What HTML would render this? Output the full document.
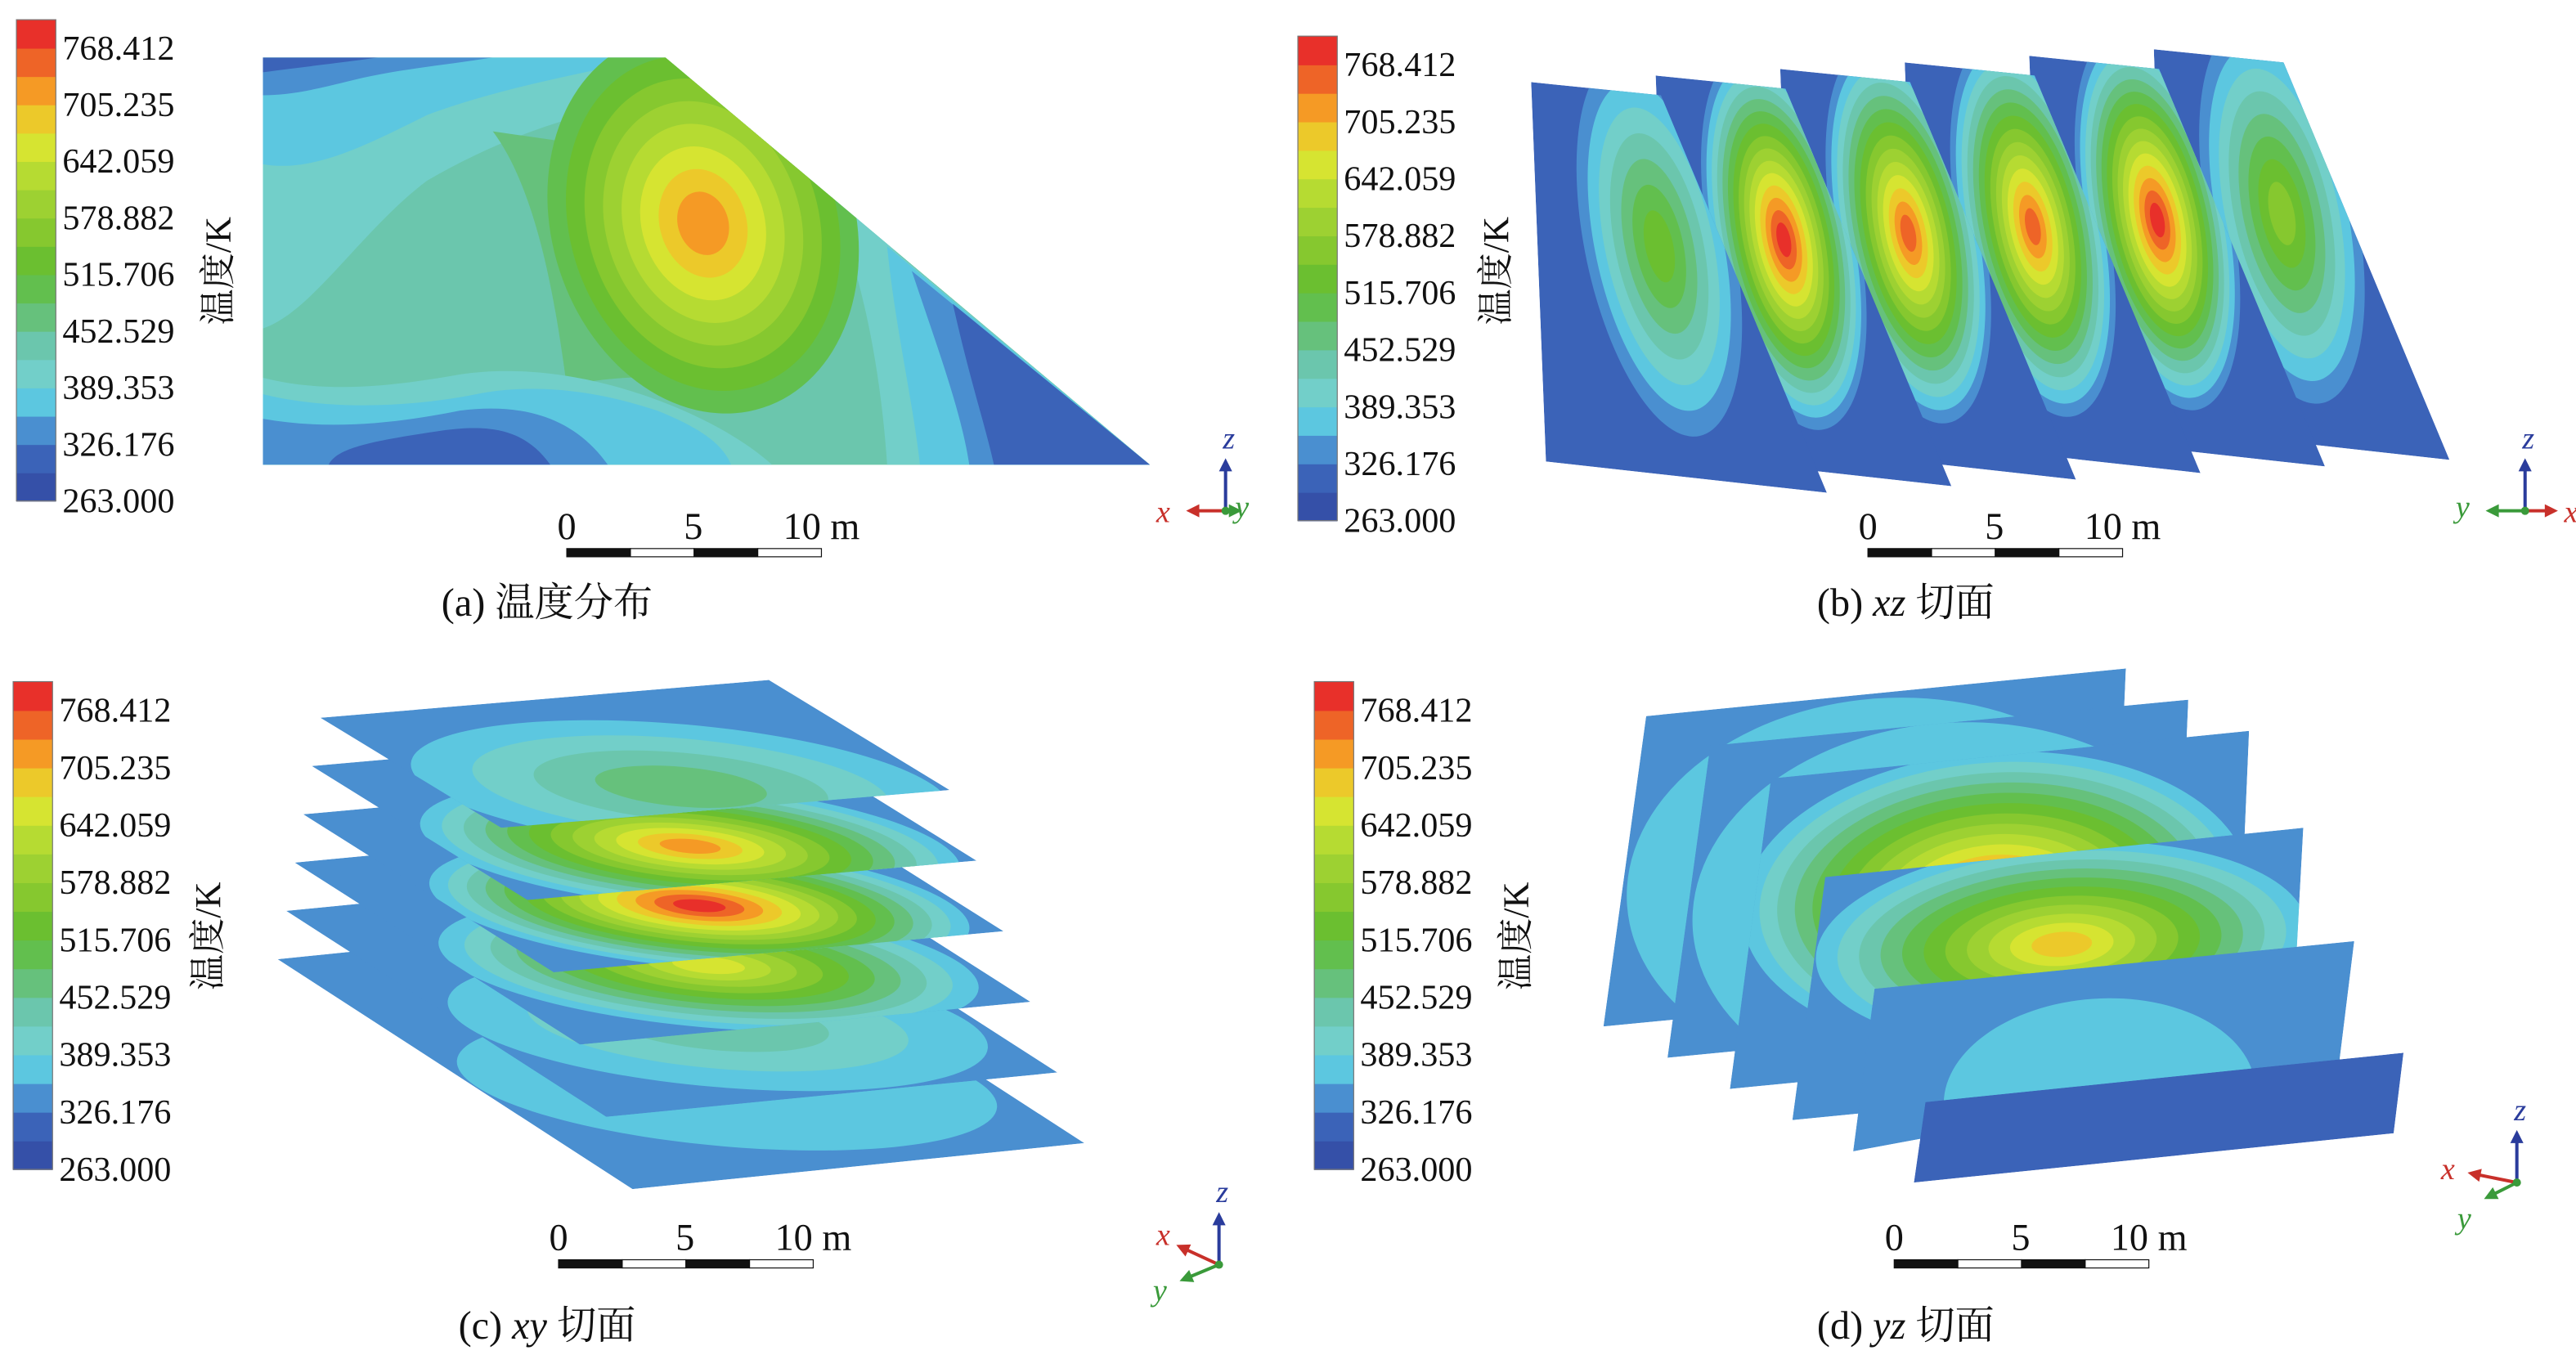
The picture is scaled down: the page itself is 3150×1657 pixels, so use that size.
<!DOCTYPE html>
<html><head><meta charset="utf-8"><style>
html,body{margin:0;padding:0;background:#fff;}
svg{display:block;}
text{font-family:"Liberation Serif","Noto Serif CJK SC","Noto Sans CJK SC",serif;fill:#111;}
</style></head><body>
<svg id="fig" xmlns="http://www.w3.org/2000/svg" width="3150" height="1657" viewBox="0 0 1568 825" preserveAspectRatio="none">
<defs></defs>
</svg>
<script>
// colorbar data
const tickLabels = ["768.412","705.235","642.059","578.882","515.706","452.529","389.353","326.176","263.000"];
const bandColors = ["#3550a8","#3b63b8","#4a8fd0","#5cc7e0","#72cfc9","#6bc6ad","#66c17c","#62bf4e","#6bbf30","#86c82f","#9dd132","#b6db32","#d6e431","#ecc92a","#f59a25","#ee6427","#e8302a"];
// peak band index per slice
const xzPeaks = [8,16,15,15,16,9];
const xyPeaks = [6,14,16,12,5,3];
const yzPeaks = [4,5,16,13,3,1];

const NS="http://www.w3.org/2000/svg";
const svg=document.getElementById('fig');
const defs=svg.querySelector('defs');
function el(tag,attrs,parent){const e=document.createElementNS(NS,tag);for(const k in attrs)e.setAttribute(k,attrs[k]);(parent||svg).appendChild(e);return e;}
let clipId=0;

function colorbar(x,y0,y1,ux,uy){
  const g=el('g',{});
  
  
  const n=bandColors.length,h=(y1-y0)/n;
  for(let i=0;i<n;i++){
    const r=el('rect',{x:x,y:y1-(i+1)*h,width:24,height:h+0.4,fill:bandColors[i]},g);
    
    
  }
  el('rect',{x:x,y:y0,width:24,height:y1-y0,fill:'none',stroke:'#777','stroke-width':0.6},g);
  for(let i=0;i<tickLabels.length;i++){
    const ty=y0+h+(y1-y0-h)*i/(tickLabels.length-1);
    const t=el('text',{x:x+28,y:ty+7,'font-size':21},g);
    t.textContent=tickLabels[i];
    
    
  }
  const u=el('text',{x:0,y:0,'font-size':22,transform:`translate(${ux},${uy}) rotate(-90)`,'text-anchor':'middle'},g);
  u.textContent='温度/K';
  
  
}

function ptsStr(p){return p.map(q=>q.join(',')).join(' ');}
function field(pts,base,peak,cx,cy,rx,ry,rot,name,extra){
  const id='c'+(clipId++);
  const cp=el('clipPath',{id:id},defs);
  el('polygon',{points:ptsStr(pts)},cp);
  const g=el('g',{'clip-path':`url(#${id})`});
  
  
  el('polygon',{points:ptsStr(pts),fill:bandColors[base]},g);
  if(extra) extra(g);
  const steps=peak-base;
  for(let l=base+1;l<=peak;l++){
    const f=1-(l-base-1)/(steps+0.4);
    el('ellipse',{cx:cx,cy:cy,rx:rx*f,ry:ry*f,fill:bandColors[l],transform:`rotate(${rot} ${cx} ${cy})`},g);
  }
  return g;
}

function scalebar(x,y,capX,capY,cap){
  const g=el('g',{});
  
  
  const w=155/4;
  for(let i=0;i<4;i++) el('rect',{x:x+i*w,y:y,width:w,height:5,fill:i%2?'#fff':'#111',stroke:'#111','stroke-width':0.6},g);
  [['0',x],['5',x+77],['10 m',x+155]].forEach(([s,px])=>{const t=el('text',{x:px,y:y-6,'font-size':23,'text-anchor':'middle'},g);t.textContent=s;});
  const c=el('text',{x:capX,y:capY,'font-size':24,'text-anchor':'middle'});
  c.innerHTML=cap;
  
  
}

function arrow(g,x,y,dx,dy,col){
  const L=Math.hypot(dx,dy),ux=dx/L,uy=dy/L;
  const ex=x+dx,ey=y+dy;
  el('line',{x1:x,y1:y,x2:ex-ux*5,y2:ey-uy*5,stroke:col,'stroke-width':2},g);
  el('polygon',{points:`${ex},${ey} ${ex-ux*8-uy*4},${ey-uy*8+ux*4} ${ex-ux*8+uy*4},${ey-uy*8-ux*4}`,fill:col},g);
}
function triad(x,y,labels){
  const g=el('g',{});
  
  
  arrow(g,x,y,0,-32,'#2a3c9c');
  const tz=el('text',{x:x+2,y:y-38,'font-size':19,'font-style':'italic','text-anchor':'middle'},g);tz.textContent='z';tz.style.fill='#2a3c9c';
  labels.forEach(([s,dx,dy,col,lx,ly])=>{
    arrow(g,x,y,dx,dy,col);
    const t=el('text',{x:x+lx,y:y+ly,'font-size':19,'font-style':'italic','text-anchor':'middle'},g);
    t.textContent=s;t.style.fill=col;
  });
  el('circle',{cx:x,cy:y,r:2.5,fill:'#3a9a3a'},g);
}

// Panel a
colorbar(10,12,305,140,165);
const polyA=[[160,35],[405,35],[700,283],[160,283]];
field(polyA,6,14,428,136,92,118,-18,'temperature-distribution-plot',g=>{
  el('rect',{x:160,y:35,width:540,height:250,fill:bandColors[5]},g);
  el('path',{d:'M160,35 L405,35 L430,60 C380,60 320,75 260,110 C220,140 190,190 160,200 Z',fill:bandColors[4]},g);
  el('path',{d:'M160,35 L400,35 C350,45 300,55 260,70 C220,90 190,105 160,100 Z',fill:bandColors[3]},g);
  el('path',{d:'M160,35 L300,35 C270,40 240,42 210,50 C190,55 175,58 160,58 Z',fill:bandColors[2]},g);
  el('path',{d:'M160,35 L230,35 C210,38 190,40 160,44 Z',fill:bandColors[1]},g);
  el('path',{d:'M300,80 C330,120 340,200 345,235 C390,225 430,230 460,245 C480,200 500,150 510,110 Z',fill:bandColors[6]},g);
  el('path',{d:'M160,230 C200,240 240,235 280,228 C320,222 360,230 390,240 C420,250 450,265 470,283 L160,283 Z',fill:bandColors[4]},g);
  el('path',{d:'M160,240 C200,250 250,248 290,240 C330,232 370,240 400,250 C425,260 440,270 445,283 L160,283 Z',fill:bandColors[3]},g);
  el('path',{d:'M160,255 C200,262 240,258 280,250 C320,245 350,255 370,283 L160,283 Z',fill:bandColors[2]},g);
  el('path',{d:'M200,283 C205,272 230,268 270,262 C300,258 320,262 335,283 Z',fill:bandColors[1]},g);
  el('path',{d:'M500,110 C520,150 535,210 540,283 L700,283 L547,155 Z',fill:bandColors[4]},g);
  el('path',{d:'M540,150 C545,200 555,240 560,283 L700,283 Z',fill:bandColors[3]},g);
  el('path',{d:'M555,165 C570,210 585,250 590,283 L700,283 Z',fill:bandColors[2]},g);
  el('path',{d:'M580,185 C590,230 600,260 605,283 L700,283 Z',fill:bandColors[1]},g);
});
triad(746,311,[['x',-24,0,'#c8302a',-38,7],['y',10,0,'#3a9a3a',10,4]]);
scalebar(345,334,333,375,'(a) 温度分布');

// Panel b
colorbar(790,22,317,918,165);
for(let i=5;i>=0;i--){
  const dx=i*75.8,dy=-i*4;
  const pts=[[932+dx,50+dy],[1011+dx,58+dy],[1112+dx,300+dy],[941+dx,281+dy]];
  field(pts,1,xzPeaks[i],1010+dx,150+dy,45,118,-12,'xz-slice');
}
triad(1537,311,[['x',20,0,'#c8302a',28,7],['y',-24,0,'#3a9a3a',-38,4]]);
scalebar(1137,334,1160,375,'(b) <tspan font-style="italic">xz</tspan> 切面');

// Panel c
colorbar(8,415,712,134,570);
const Ltop=[195,437],Lbot=[169,584],Rtop=[578,481],Rbot=[660,696],Ttop=[468,414],Tbot=[444,556];
for(let k=5;k>=0;k--){
  const t=k/5,lerp=(a,b)=>[a[0]+(b[0]-a[0])*t,a[1]+(b[1]-a[1])*t];
  const L=lerp(Ltop,Lbot),R=lerp(Rtop,Rbot),T=lerp(Ttop,Tbot);
  const B=[L[0]+R[0]-T[0],L[1]+R[1]-T[1]];
  const cx=(L[0]+R[0])/2+28,cy=(L[1]+R[1])/2+20;
  field([L,T,R,B],2,xyPeaks[k],cx,cy,165,38,5,'xy-slice');
}
triad(742,770,[['x',-26,-12,'#c8302a',-34,-12],['y',-24,10,'#3a9a3a',-36,22]]);
scalebar(340,767,333,815,'(c) <tspan font-style="italic">xy</tspan> 切面');

// Panel d
colorbar(800,415,712,930,570);
const yzPlanes=[
 [[1002,436],[1294,407],[1286,595],[976,625]],
 [[1041,454],[1332,426],[1324,614],[1015,644]],
 [[1078,474],[1369,445],[1361,633],[1053,663]],
 [[1111,534],[1402,504],[1394,652],[1091,682]],
 [[1141,602],[1433,573],[1424,646],[1128,701]],
 [[1172,671],[1463,641],[1457,690],[1165,720]]];
const yzEll=[[1150,540,160,115],[1190,555,160,115],[1215,548,155,90],[1255,575,150,62],[1278,668,95,60],[1300,690,50,20]];
yzPlanes.forEach((p,i)=>{
  const e=yzEll[i];
  field(p,i===5?1:2,yzPeaks[i],e[0],e[1],e[2],e[3],-4,'yz-slice');
});
triad(1532,720,[['x',-30,-6,'#c8302a',-42,-2],['y',-20,10,'#3a9a3a',-32,28]]);
scalebar(1153,767,1160,815,'(d) <tspan font-style="italic">yz</tspan> 切面');
</script>
</body></html>
